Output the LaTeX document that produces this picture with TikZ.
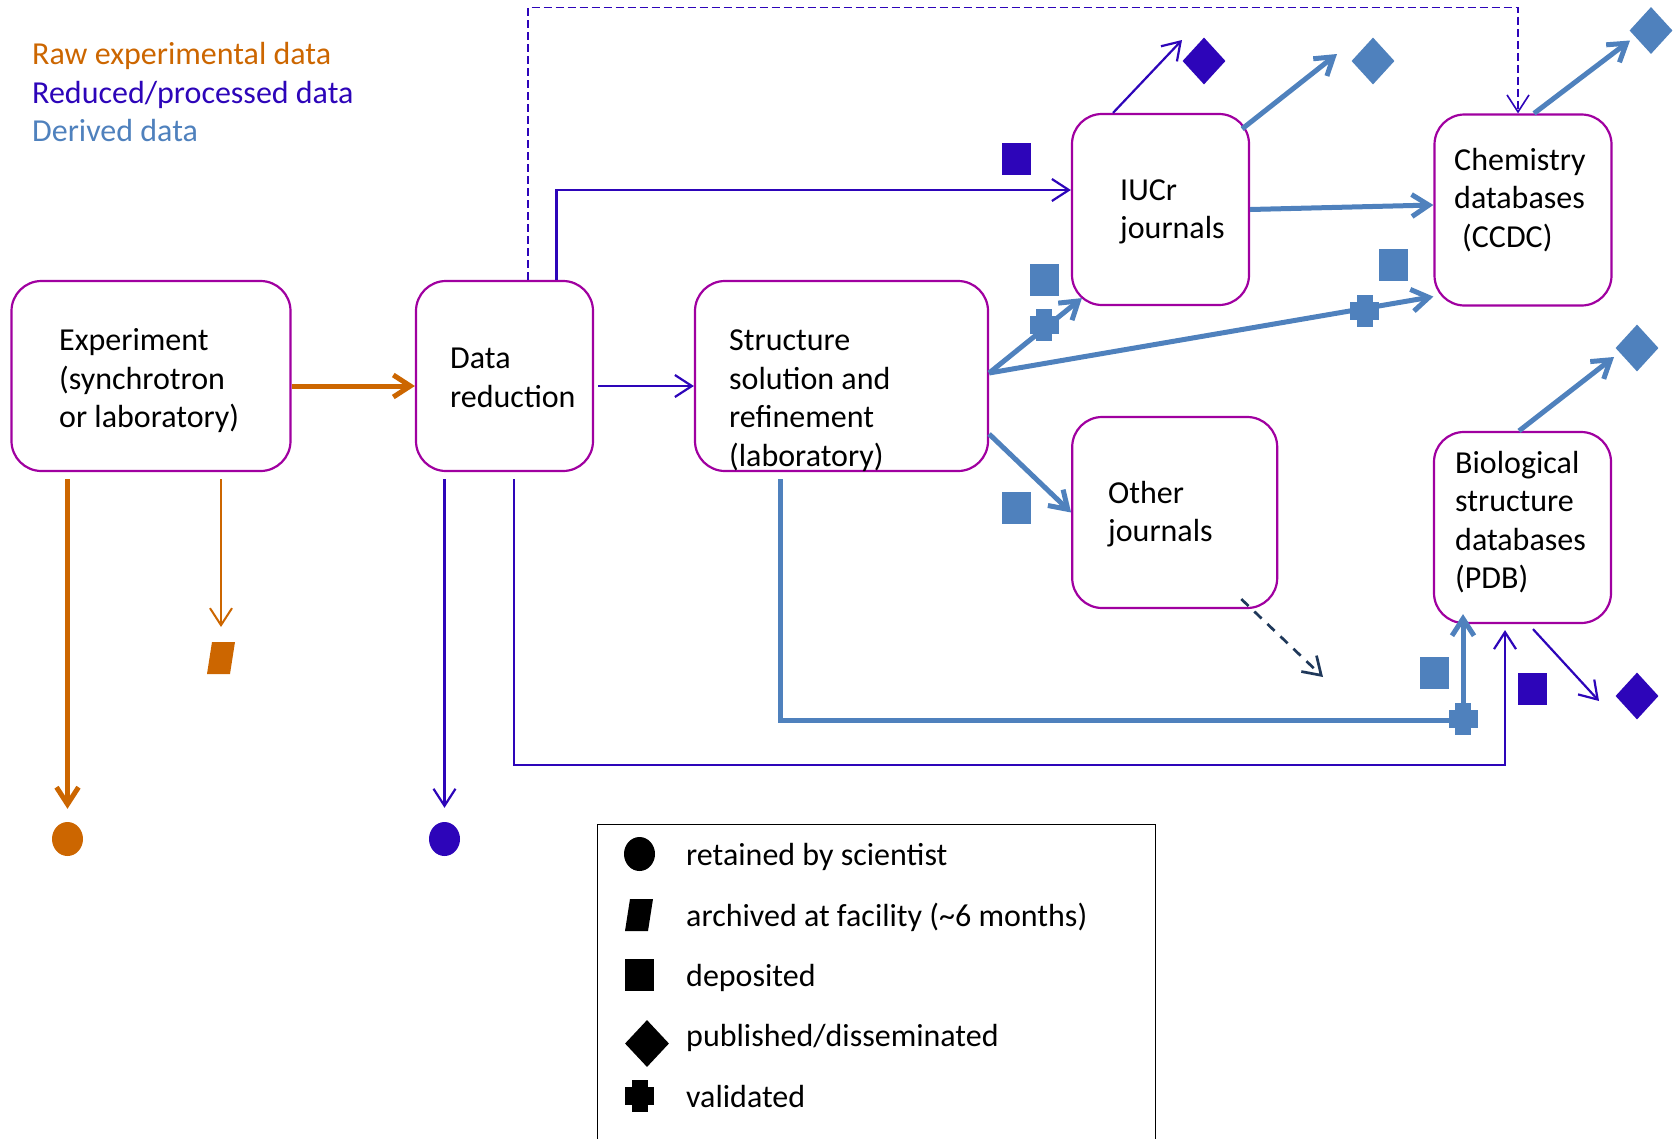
\documentclass[tikz,border=0pt]{standalone}
\usepackage{fontspec}
\setmainfont{Carlito}
\usetikzlibrary{arrows.meta,calc,shapes.geometric}

\definecolor{rawcol}{RGB}{204,102,0}
\definecolor{redcol}{RGB}{45,5,185}
\definecolor{dercol}{RGB}{79,129,189}
\definecolor{boxcol}{RGB}{160,0,160}
\definecolor{darkcol}{RGB}{31,56,90}
\newcommand{\diagfont}{\fontsize{32}{38.5}\selectfont}

\begin{document}
\begin{tikzpicture}[x=1pt, y=-1pt,
        stage/.style={rectangle, draw=boxcol, line width=2.2pt, rounded corners=30pt, minimum width=177pt, minimum height=191pt, inner sep=0},
        boxtext/.style={align=left, anchor=west, inner sep=0, yshift=-3pt, font=\diagfont},
        keytext/.style={anchor=west, inner sep=0, yshift=-3pt, text height=24pt, text depth=8pt, font=\diagfont},
        kept/.style={ellipse, fill=#1, inner sep=0, minimum width=31pt, minimum height=34pt},
        deposit/.style={rectangle, fill=#1, inner sep=0, minimum width=29pt, minimum height=32pt},
        publish/.style={diamond, fill=#1, inner sep=0, minimum width=43pt, minimum height=47pt},
        archive/.pic={\fill (-14,16) -- (9,16) -- (14,-16) -- (-9,-16) -- cycle;},
        valid/.pic={\fill (-14.5,-9) rectangle (14.5,9); \fill (-8,-16) rectangle (8,16);},
        barb/.style={-{Straight Barb[length=17pt, width=22pt]}},
        rawthick/.style={barb, draw=rawcol, line width=5pt},
        rawthin/.style={barb, draw=rawcol, line width=2pt},
        redline/.style={barb, draw=redcol, line width=2.2pt},
        reddash/.style={barb, draw=redcol, line width=1.6pt, dash pattern=on 8pt off 4pt},
        derline/.style={barb, draw=dercol, line width=5pt},
        darkdash/.style={barb, draw=darkcol, line width=2.7pt, dash pattern=on 10pt off 8pt}]

    \useasboundingbox (0,0) rectangle (1680,1138);

    % data kinds
    \node[keytext, text=rawcol] (rawkey) at (32,53.6) {Raw experimental data};
    \node[keytext, text=redcol] (redkey) at (32,92) {Reduced/processed data};
    \node[keytext, text=dercol] (derkey) at (32,130.5) {Derived data};

    % stages
    \node[stage, minimum width=279pt, minimum height=190pt] (expt) at (151,376) {};
    \node[stage, minimum height=190pt] (reduc) at (504.5,376) {};
    \node[stage, minimum width=293pt, minimum height=190pt] (solve) at (841.5,376) {};
    \node[stage] (iucr) at (1160.5,209.5) {};
    \node[stage, minimum width=205pt] (otherj) at (1174.7,512.5) {};
    \node[stage] (ccdc) at (1523,210) {};
    \node[stage] (pdb) at (1522.5,527.5) {};

    \node[boxtext] (expttext) at (59,378) {Experiment\\(synchrotron\\or laboratory)};
    \node[boxtext] (reductext) at (450,375) {Data\\reduction};
    \node[boxtext] (solvetext) at (729,397.5) {Structure\\solution and\\refinement\\(laboratory)};
    \node[boxtext] (iucrtext) at (1120,209) {IUCr\\journals};
    \node[boxtext] (otherjtext) at (1108,511) {Other\\journals};
    \node[boxtext] (ccdctext) at (1454,197) {Chemistry\\databases\\\hspace{8pt}(CCDC)};
    \node[boxtext] (pdbtext) at (1455,519) {Biological\\structure\\databases\\(PDB)};

    % marks
    \node[kept=rawcol] (rawkept) at (67.5,839) {};
    \coordinate (rawarch) at (221,658);
    \pic[rawcol] at (rawarch) {archive};
    \node[kept=redcol] (redkept) at (444.5,839) {};
    \node[deposit=redcol] (iucrdep) at (1016,159) {};
    \node[publish=redcol] (iucrred) at (1204,61) {};
    \node[publish=dercol] (iucrder) at (1373,61) {};
    \node[publish=dercol] (ccdcder) at (1651,30.5) {};
    \node[deposit=dercol] (iucrdep2) at (1044,280) {};
    \node[deposit=dercol] (ccdcdep) at (1393,265) {};
    \node[deposit=dercol] (otherdep) at (1016,507.5) {};
    \node[publish=dercol] (pdbder) at (1637,348) {};
    \node[deposit=dercol] (pdbdep) at (1434.7,673) {};
    \node[deposit=redcol] (pdbdep2) at (1532.7,688.5) {};
    \node[publish=redcol] (pdbred) at (1637,696) {};
    \coordinate (otherout) at (1323,677);

    % raw data
    \draw[rawthick] ([yshift=-10pt]expt.east) -- ([yshift=-10pt]reduc.west);
    \draw[rawthick] ($(expt.south -| rawkept)+(0,7)$) -- ($(rawkept.north)+(0,-13)$);
    \draw[rawthin] ($(expt.south -| rawarch)+(0,7)$) -- ($(rawarch)+(0,-31)$);

    % reduced data
    \draw[redline] ([xshift=4pt,yshift=-10pt]reduc.east) -- ([yshift=-10pt]solve.west);
    \draw[redline] ($(reduc.south -| redkept)+(0,7)$) -- ($(redkept.north)+(0,-14)$);
    \draw[redline] ($(reduc.south)+(9.5,7)$) |- ($(pdb.south)+(-17.5,141)$) -- ($(pdb.south)+(-17.5,6)$);
    \draw[redline] ($(reduc.north)+(52,0)$) |- ($(iucr.west)+(0,-19.5)$);
    \draw[reddash] ($(reduc.north)+(23.5,0)$) |- ($(ccdc.north)+(-5,-106)$) -- ($(ccdc.north)+(-5,0)$);
    \draw[redline] ($(iucr.north)+(-47.5,0)$) -- ($(iucrred)+(-22,-21)$);
    \draw[redline] ($(pdb.south)+(10.5,5)$) -- ($(pdbred)+(-38,5)$);

    % derived data
    \draw[derline] ($(iucr.north east)+(-8,16)$) -- ($(iucrder)+(-36,-7)$);
    \draw[derline] (iucr.east) -- ([yshift=5pt]ccdc.west);
    \draw[derline] ($(ccdc.north)+(11,0)$) -- ($(ccdcder)+(-21,10)$);
    \draw[derline] ([yshift=3pt]solve.east) -- ($(iucr.south west)+(11,-8)$);
    \draw[derline] ([yshift=3pt]solve.east) -- ($(ccdc.south west)+(0,-10)$);
    \draw[derline] ([yshift=-58pt]solve.east) -- (otherj.west);
    \draw[derline] ($(solve.south)+(-61,7)$) |- ($(pdb.south)+(-59.5,96)$) -- ($(pdb.south)+(-59.5,-10)$);
    \draw[derline] ($(pdb.north)+(-3.5,0)$) -- ($(pdbder)+(-23,9)$);
    \draw[darkdash] ($(otherj.south east)+(-37,-10)$) -- (otherout);

    \pic[dercol] at (1044,325) {valid};
    \pic[dercol] at (1364.5,310.5) {valid};
    \pic[dercol] at (1463,719) {valid};

    % legend
    \node[draw, line width=1.2pt, minimum width=558pt, minimum height=318pt, anchor=north west, inner sep=0] (legend) at (597,824) {};
    \node[kept=black] (keykept) at (639.5,854) {};
    \pic[black] at (639,915) {archive};
    \node[deposit=black] (keydep) at (639.5,975) {};
    \node[publish=black, minimum width=44pt] (keypub) at (647,1043.5) {};
    \pic[black] at (639.5,1096) {valid};
    \node[keytext] (keytext1) at (686,854) {retained by scientist};
    \node[keytext] (keytext2) at (686,915) {archived at facility (\textasciitilde6 months)};
    \node[keytext] (keytext3) at (686,975) {deposited};
    \node[keytext] (keytext4) at (686,1035) {published/disseminated};
    \node[keytext] (keytext5) at (686,1096) {validated};
\end{tikzpicture}
\end{document}
